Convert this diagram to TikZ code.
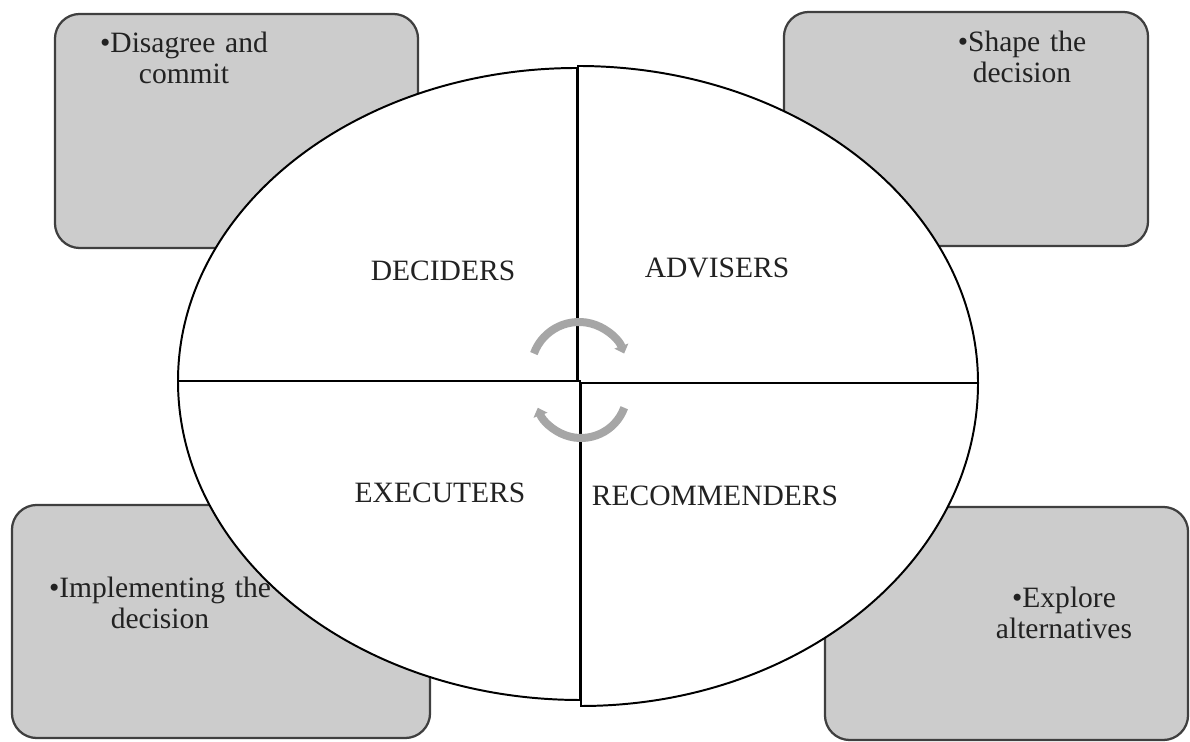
\documentclass[tikz,border=0pt]{standalone}
\usepackage{fontspec}
\setmainfont{Liberation Serif}
\usetikzlibrary{arrows.meta,positioning}
\definecolor{BoxGray}{HTML}{CCCCCC}
\definecolor{EdgeGray}{HTML}{3F3F3F}
\definecolor{TurnGray}{HTML}{A6A6A6}
\definecolor{InkGray}{HTML}{222222}

\begin{document}
\begin{tikzpicture}[x=0.025cm, y=0.025cm,
          rolebox/.style={rectangle, rounded corners=0.62cm, draw=EdgeGray, line width=1.6pt, fill=BoxGray, inner sep=0pt},
          note/.style={text width=7cm, align=center, anchor=base, inner sep=0pt, font=\fontsize{21}{21.5}\selectfont, text=InkGray},
          role/.style={anchor=base, inner sep=0pt, font=\fontsize{21}{21.5}\selectfont, text=InkGray},
          slice/.style={fill=white, draw=black, line width=1.4pt},
          turnarrow/.style={draw=TurnGray, line width=0.2cm, -{Triangle[length=0.2cm, width=0.36cm]}}
        ]
          \useasboundingbox (0,0) rectangle (1190,742);
          % corner boxes
          \node[rolebox, minimum width=9.075cm, minimum height=5.85cm] (deciderbox) at (236.5,611) {};
          \node[rolebox, minimum width=9.1cm, minimum height=5.85cm] (adviserbox) at (966,613) {};
          \node[rolebox, minimum width=10.45cm, minimum height=5.825cm] (executerbox) at (221,120.5) {};
          \node[rolebox, minimum width=9.075cm, minimum height=5.825cm] (recommenderbox) at (1006.5,118.5) {};
          \node[note] (commitnote) at (184,689) {\textbullet Disagree and\\commit};
          \node[note] (shapenote) at (1022,690) {\textbullet Shape the\\decision};
          \node[note] (implementnote) at (160,144) {\textbullet Implementing the\\decision};
          \node[note] (explorenote) at (1064,134) {\textbullet Explore\\alternatives};
          % the four quarters
          \coordinate (tlhub) at (577,361);
          \coordinate (trhub) at (578,359);
          \coordinate (brhub) at (581,359);
          \coordinate (blhub) at (580,361);
          \filldraw[slice] (tlhub) -- ++(-399,0) arc[start angle=180, end angle=90, x radius=399, y radius=313] -- cycle;
          \filldraw[slice] (trhub) -- ++(0,317) arc[start angle=90, end angle=0, x radius=400, y radius=317] -- cycle;
          \filldraw[slice] (brhub) -- ++(397,0) arc[start angle=0, end angle=-90, x radius=397, y radius=323] -- cycle;
          \filldraw[slice] (blhub) -- ++(0,-319) arc[start angle=-90, end angle=-180, x radius=402, y radius=319] -- cycle;
          \node[role] (deciders) at (443,461) {DECIDERS};
          \node[role] (advisers) at (717,464) {ADVISERS};
          \node[role] (executers) at (440,239) {EXECUTERS};
          \node[role] (recommenders) at (715,236) {RECOMMENDERS};
          % turning arrows
          \coordinate (upperturn) at (579,372);
          \coordinate (lowerturn) at (581,350);
          \draw[turnarrow] ([shift={(160:48)}]upperturn) arc[start angle=160, end angle=20, radius=48];
          \draw[turnarrow] ([shift={(-20:46)}]lowerturn) arc[start angle=-20, end angle=-160, radius=46];
        \end{tikzpicture}
\end{document}
